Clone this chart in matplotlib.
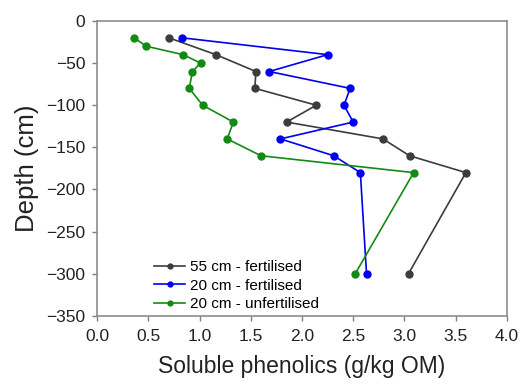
import matplotlib.pyplot as plt
from matplotlib.lines import Line2D

plt.rcParams['font.family'] = ['Liberation Sans', 'DejaVu Sans']

# depths (cm) and soluble phenolics (g/kg OM)
depth_55f = [-20, -40, -60, -80, -100, -120, -140, -160, -180, -300]
phen_55f = [0.70, 1.16, 1.55, 1.54, 2.14, 1.85, 2.79, 3.05, 3.60, 3.04]

depth_20f = [-20, -40, -60, -80, -100, -120, -140, -160, -180, -300]
phen_20f = [0.83, 2.25, 1.68, 2.47, 2.41, 2.50, 1.79, 2.31, 2.57, 2.63]

depth_20u = [-20, -30, -40, -50, -60, -80, -100, -120, -140, -160, -180, -300]
phen_20u = [0.36, 0.48, 0.84, 1.01, 0.93, 0.90, 1.03, 1.33, 1.27, 1.60, 3.09, 2.52]

labels = ['55 cm - fertilised', '20 cm - fertilised', '20 cm - unfertilised']
colors = ['#3c3c3c', '#0000ee', '#138a13']

fig = plt.figure(figsize=(5.22, 3.88), dpi=100)
ax = fig.add_axes([0.186, 0.186, 0.785, 0.76])

series = [(phen_55f, depth_55f), (phen_20f, depth_20f), (phen_20u, depth_20u)]
for (x, y), c in zip(series, colors):
    ax.plot(x, y, color=c, lw=1.2, marker='o', ms=5)

ax.set_xlim(0, 4.0)
ax.set_ylim(-350, 0)
ax.set_xticks([0, 0.5, 1.0, 1.5, 2.0, 2.5, 3.0, 3.5, 4.0])
ax.set_xticklabels(['0.0', '0.5', '1.0', '1.5', '2.0', '2.5', '3.0', '3.5', '4.0'])
ax.set_yticks(range(-350, 1, 50))
ax.tick_params(labelsize=12.5, color='#808080', length=3.5, width=1, colors='#222222')
ax.tick_params(axis='x', pad=6)
ax.tick_params(axis='y', pad=5)
for s in ax.spines.values():
    s.set_color('#8c8c8c')
    s.set_linewidth(1.2)

ax.set_xlabel('Soluble phenolics (g/kg OM)', fontsize=16.5, labelpad=8, color='#222222')
ax.set_ylabel('Depth (cm)', fontsize=18.5, labelpad=5, color='#222222')

handles = [Line2D([0], [0], color=c, lw=1.2, marker='o', ms=3.5) for c in colors]
ax.legend(handles, labels, loc='lower left', bbox_to_anchor=(0.14, 0.015),
          frameon=False, fontsize=11, handlelength=2.0, handletextpad=0.35,
          labelspacing=0.3, borderpad=0, borderaxespad=0)

fig.savefig('out.png', dpi=100)
